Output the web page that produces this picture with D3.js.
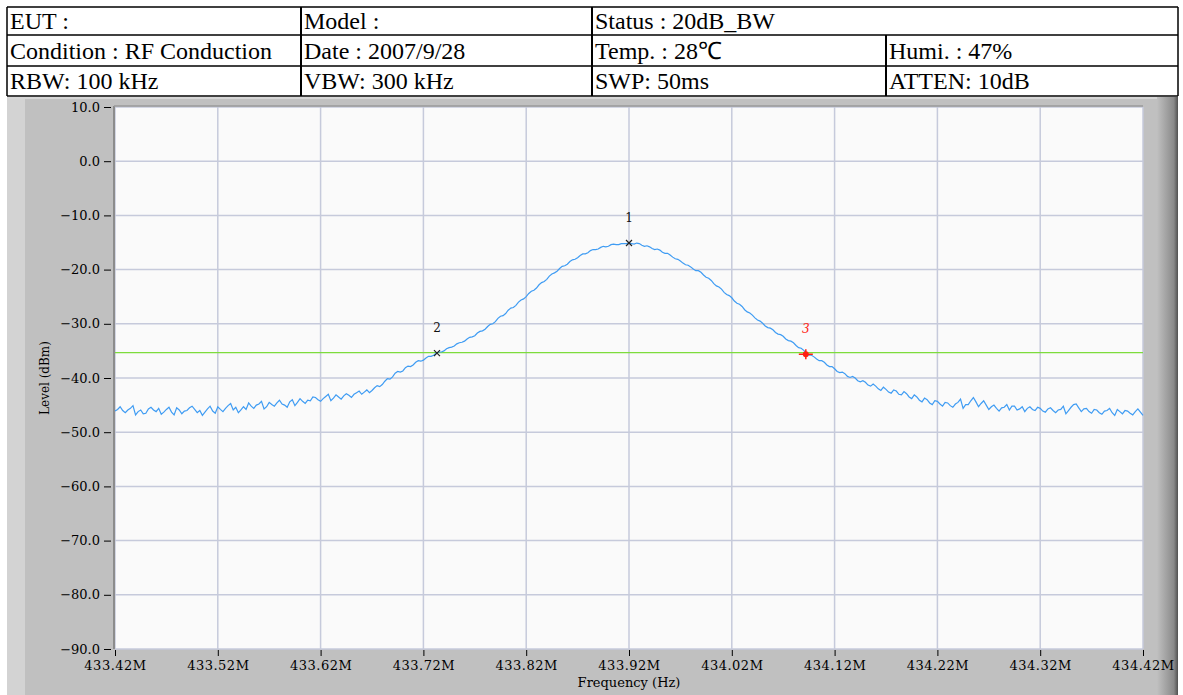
<!DOCTYPE html>
<html><head><meta charset="utf-8">
<script src="https://cdn.jsdelivr.net/npm/d3@7"></script>
<style>body{margin:0;background:#fff;} svg{display:block;}</style>
</head><body>
<script>
// ---------- data ----------
const headerRow1 = ["EUT :", "Model :", "Status : 20dB_BW"];
const headerRow2 = ["Condition : RF Conduction", "Date : 2007/9/28", "Temp. : 28\u2103", "Humi. : 47%"];
const headerRow3 = ["RBW: 100 kHz", "VBW: 300 kHz", "SWP: 50ms", "ATTEN: 10dB"];

const sweepStartMHz = 433.42;
const sweepStopMHz = 434.42;
const xTickValues = [433.42, 433.52, 433.62, 433.72, 433.82, 433.92, 434.02, 434.12, 434.22, 434.32, 434.42];
const yTickValues = [10, 0, -10, -20, -30, -40, -50, -60, -70, -80, -90];

// trace levels (dBm), one per sweep point (401 points)
const levels = [
-46.1,-45.8,-45.3,-46.0,-46.4,-45.9,-45.6,-45.1,-46.8,-46.2,
-45.9,-46.6,-46.5,-45.7,-45.4,-45.9,-46.2,-45.6,-46.7,-46.3,
-45.8,-45.4,-46.3,-46.8,-45.5,-45.9,-46.6,-46.1,-46.0,-45.5,
-45.2,-45.8,-46.4,-46.0,-46.9,-46.3,-45.7,-45.2,-46.1,-46.5,
-45.3,-45.8,-46.2,-45.6,-45.1,-44.7,-45.9,-45.4,-46.4,-45.9,
-45.3,-45.8,-44.6,-45.2,-45.6,-45.0,-44.8,-44.3,-45.7,-45.3,
-44.5,-44.9,-45.2,-44.6,-44.1,-44.8,-45.0,-45.4,-44.4,-44.0,
-45.1,-44.5,-43.8,-44.3,-44.7,-44.1,-44.2,-43.5,-43.6,-44.0,
-44.3,-43.8,-43.4,-43.0,-44.2,-43.7,-43.1,-43.5,-43.9,-43.3,
-42.9,-43.2,-43.6,-43.0,-42.7,-42.4,-43.0,-42.6,-42.2,-42.7,
-42.3,-41.8,-41.4,-41.6,-41.2,-40.6,-40.1,-40.2,-39.8,-39.1,
-38.8,-38.9,-38.7,-38.1,-37.8,-37.9,-37.6,-37.1,-36.8,-36.9,
-36.7,-36.3,-36.0,-36.0,-35.8,-35.4,-35.2,-35.2,-35.0,-34.6,
-34.4,-34.3,-34.1,-33.7,-33.5,-33.4,-33.2,-32.8,-32.5,-32.4,
-32.2,-31.7,-31.4,-31.3,-31.0,-30.5,-30.1,-30.0,-29.6,-29.0,
-28.6,-28.5,-28.1,-27.5,-27.1,-27.0,-26.6,-26.0,-25.6,-25.4,
-25.0,-24.4,-24.0,-23.8,-23.4,-22.8,-22.4,-22.2,-21.8,-21.2,
-20.8,-20.6,-20.3,-19.8,-19.4,-19.3,-19.0,-18.5,-18.2,-18.1,
-17.8,-17.4,-17.1,-17.1,-16.9,-16.5,-16.3,-16.3,-16.2,-15.9,
-15.7,-15.8,-15.7,-15.4,-15.3,-15.4,-15.4,-15.2,-15.2,-15.2,
-15.1,-15.2,-15.3,-15.1,-15.2,-15.5,-15.7,-15.6,-15.8,-16.1,
-16.3,-16.2,-16.4,-16.8,-17.0,-17.0,-17.3,-17.7,-18.0,-18.1,
-18.4,-18.8,-19.1,-19.2,-19.5,-19.9,-20.2,-20.2,-20.5,-21.0,
-21.4,-21.6,-22.0,-22.6,-23.0,-23.2,-23.6,-24.2,-24.6,-24.8,
-25.2,-25.8,-26.2,-26.4,-26.8,-27.4,-27.8,-28.0,-28.4,-28.9,
-29.3,-29.5,-29.9,-30.4,-30.7,-30.8,-31.1,-31.6,-31.9,-32.0,
-32.3,-32.8,-33.1,-33.2,-33.5,-34.0,-34.4,-34.5,-34.9,-35.4,
-35.8,-35.8,-36.1,-36.5,-36.8,-36.8,-37.1,-37.6,-37.9,-37.9,
-38.3,-38.8,-39.0,-38.9,-39.2,-39.7,-39.9,-39.7,-40.0,-40.5,
-40.7,-40.5,-40.8,-41.3,-41.5,-41.1,-41.5,-42.0,-42.3,-41.7,
-42.1,-42.6,-42.8,-42.2,-42.4,-43.0,-43.1,-42.5,-42.9,-43.5,
-43.8,-43.1,-43.5,-44.1,-44.4,-43.7,-44.0,-44.6,-44.9,-44.2,
-44.3,-44.8,-45.2,-44.5,-44.6,-45.1,-45.4,-44.8,-44.5,-43.9,
-45.6,-44.9,-44.9,-44.2,-43.6,-44.4,-45.3,-44.7,-44.2,-45.0,
-45.8,-45.3,-45.0,-45.6,-46.1,-45.5,-45.4,-44.9,-45.9,-45.2,
-45.2,-45.9,-45.7,-45.3,-46.2,-45.6,-45.3,-45.8,-46.0,-45.4,
-45.6,-46.1,-46.3,-45.7,-45.5,-46.0,-46.4,-45.9,-45.8,-45.2,
-46.6,-46.0,-45.4,-44.9,-44.8,-45.5,-46.2,-45.7,-45.6,-46.2,
-46.5,-45.8,-45.9,-46.4,-46.7,-46.1,-46.0,-45.6,-46.4,-46.9,
-45.8,-46.2,-46.6,-46.0,-46.1,-46.5,-46.8,-46.2,-45.7,-46.3,
-46.9
];

const markerLabels = ["1", "2", "3"];
const markerFreqs = [433.92, 433.7332, 434.092];
const markerLevels = [-15.1, -35.4, -35.6];
const displayLineLevel = -35.3;

// ---------- layout ----------
const W = 1183, H = 695;
const plot = {x0: 115, x1: 1143, y0: 107, y1: 649};

const svg = d3.select("body").append("svg").attr("width", W).attr("height", H);

// ---------- header table ----------
const tbl = {x0: 7, x1: 1178, rows: [7, 35, 66, 96], cols: [7, 301, 592, 886, 1178]};
const tg = svg.append("g").attr("font-family", "'Liberation Serif', 'Times New Roman', serif")
  .attr("font-size", 24).attr("fill", "#000");
const rowsData = [headerRow1, headerRow2, headerRow3];
const baselines = [29, 59, 89];
rowsData.forEach((row, r) => {
  row.forEach((txt, c) => {
    tg.append("text").attr("x", tbl.cols[c] + 3).attr("y", baselines[r]).text(txt);
  });
});
// table lines
const lineG = svg.append("g").attr("stroke", "#000");
tbl.rows.forEach(y => lineG.append("line").attr("x1", tbl.x0).attr("x2", tbl.x1).attr("y1", y).attr("y2", y).attr("stroke-width", 1.5));
[tbl.x0, tbl.x1].forEach(x => lineG.append("line").attr("x1", x).attr("x2", x).attr("y1", tbl.rows[0]).attr("y2", tbl.rows[3]).attr("stroke-width", 1.5));
[301, 592].forEach(x => lineG.append("line").attr("x1", x).attr("x2", x).attr("y1", tbl.rows[0]).attr("y2", tbl.rows[3]).attr("stroke-width", 2));
lineG.append("line").attr("x1", 886).attr("x2", 886).attr("y1", tbl.rows[1]).attr("y2", tbl.rows[3]).attr("stroke-width", 2);

// ---------- gray panel ----------
const defs = svg.append("defs");
const grad = defs.append("linearGradient").attr("id", "edge").attr("x1", 0).attr("x2", 1).attr("y1", 0).attr("y2", 0);
grad.append("stop").attr("offset", "0%").attr("stop-color", "#c0c0c0");
grad.append("stop").attr("offset", "80%").attr("stop-color", "#8a8a8a");
grad.append("stop").attr("offset", "100%").attr("stop-color", "#505050");

svg.append("rect").attr("x", 7).attr("y", 97).attr("width", 1171).attr("height", H - 97).attr("fill", "#c0c0c0");
svg.append("rect").attr("x", 7).attr("y", 97).attr("width", 18).attr("height", H - 97).attr("fill", "#d3d3d3");
svg.append("rect").attr("x", 7).attr("y", 97).attr("width", 1171).attr("height", 2).attr("fill", "#d6d6d6");
svg.append("rect").attr("x", 1157).attr("y", 97).attr("width", 21).attr("height", H - 97).attr("fill", "url(#edge)");

// plot background
svg.append("rect").attr("x", plot.x0).attr("y", plot.y0).attr("width", plot.x1 - plot.x0).attr("height", plot.y1 - plot.y0).attr("fill", "#fafafa");

// ---------- scales ----------
const x = d3.scaleLinear().domain([sweepStartMHz, sweepStopMHz]).range([plot.x0, plot.x1]);
const y = d3.scaleLinear().domain([-90, 10]).range([plot.y1, plot.y0]);

// grid
const grid = svg.append("g").attr("stroke", "#c6cadb").attr("stroke-width", 1.5);
xTickValues.forEach(v => grid.append("line").attr("x1", x(v)).attr("x2", x(v)).attr("y1", plot.y0).attr("y2", plot.y1));
yTickValues.forEach(v => grid.append("line").attr("x1", plot.x0).attr("x2", plot.x1).attr("y1", y(v)).attr("y2", y(v)));

// plot border (sunken look)
svg.append("line").attr("x1", plot.x0 - 1).attr("x2", plot.x0 - 1).attr("y1", plot.y0 - 1).attr("y2", plot.y1).attr("stroke", "#8c8c8c").attr("stroke-width", 2);
svg.append("line").attr("x1", plot.x0 - 1).attr("x2", plot.x1).attr("y1", plot.y0 - 1).attr("y2", plot.y0 - 1).attr("stroke", "#9a9a9a").attr("stroke-width", 1.5);

// ---------- axes ----------
const axisFont = "'DejaVu Serif', serif";
const yAxis = svg.append("g").attr("transform", `translate(${plot.x0 - 4},0)`)
  .call(d3.axisLeft(y).tickValues(yTickValues).tickSize(7).tickPadding(4).tickFormat(d3.format(".1f")));
const xAxis = svg.append("g").attr("transform", `translate(0,${plot.y1 + 1})`)
  .call(d3.axisBottom(x).tickValues(xTickValues).tickSize(6).tickPadding(5).tickFormat(v => d3.format(".2f")(v) + "M"));
[yAxis, xAxis].forEach(a => {
  a.select(".domain").remove();
  a.selectAll(".tick line").attr("stroke", "#000").attr("stroke-width", 1);
  a.selectAll(".tick text").attr("font-family", axisFont).attr("font-size", 13).attr("fill", "#000");
});
xAxis.selectAll(".tick text").attr("letter-spacing", 0.5);

svg.append("text").attr("x", (plot.x0 + plot.x1) / 2).attr("y", 687).attr("text-anchor", "middle")
  .attr("font-family", axisFont).attr("font-size", 13).text("Frequency (Hz)");
svg.append("text").attr("transform", `translate(49,${(plot.y0 + plot.y1) / 2}) rotate(-90)`).attr("text-anchor", "middle")
  .attr("font-family", axisFont).attr("font-size", 12).text("Level (dBm)");

// ---------- display line ----------
svg.append("line").attr("x1", plot.x0).attr("x2", plot.x1).attr("y1", y(displayLineLevel)).attr("y2", y(displayLineLevel))
  .attr("stroke", "#7ddc3c").attr("stroke-width", 1.3);

// ---------- trace ----------
const step = (sweepStopMHz - sweepStartMHz) / (levels.length - 1);
const pts = levels.map((v, i) => [sweepStartMHz + i * step, v]);
svg.append("path").datum(pts)
  .attr("d", d3.line().x(d => x(d[0])).y(d => y(d[1])))
  .attr("fill", "none").attr("stroke", "#3f9cf3").attr("stroke-width", 1.2);

// ---------- markers ----------
markerLabels.forEach((lab, i) => {
  const mx = x(markerFreqs[i]), my = y(markerLevels[i]);
  const g = svg.append("g");
  if (i < 2) {
    g.append("path").attr("d", `M${mx - 3},${my - 3}L${mx + 3},${my + 3}M${mx - 3},${my + 3}L${mx + 3},${my - 3}`)
      .attr("stroke", "#222").attr("stroke-width", 1.2);
    g.append("text").attr("x", mx).attr("y", my - 21).attr("text-anchor", "middle")
      .attr("font-family", axisFont).attr("font-size", 12).attr("fill", "#111").text(lab);
  } else {
    g.append("path").attr("d", `M${mx - 7},${my}L${mx + 7},${my}M${mx},${my - 5}L${mx},${my + 5}`)
      .attr("stroke", "#ff2010").attr("stroke-width", 1.5);
    g.append("circle").attr("cx", mx).attr("cy", my).attr("r", 3).attr("fill", "#ff2010");
    g.append("text").attr("x", mx).attr("y", my - 21).attr("text-anchor", "middle")
      .attr("font-family", axisFont).attr("font-style", "italic").attr("font-size", 12).attr("fill", "#ff2010").text(lab);
  }
});
</script>
</body></html>
